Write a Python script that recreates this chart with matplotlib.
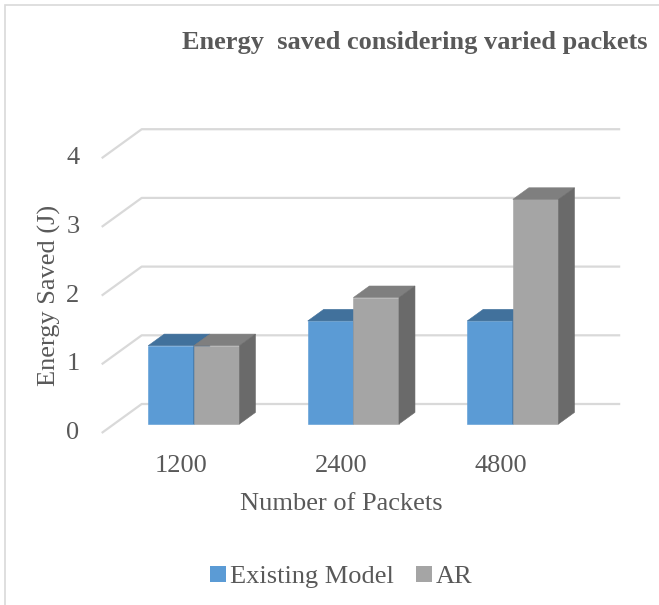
import matplotlib.pyplot as plt
from matplotlib.patches import Polygon, Patch, Rectangle

# data
categories = ["1200", "2400", "4800"]
existing_model = [1.14, 1.5, 1.5]
ar = [1.14, 1.84, 3.27]
y_ticks = [0, 1, 2, 3, 4]

series = [
    ("Existing Model", existing_model, ("#5b9bd5", "#41719c", "#3c6890")),
    ("AR", ar, ("#a5a5a5", "#7f7f7f", "#6a6a6a")),
]

TEXT = "#595959"
GRID = "#d9d9d9"
FS = 19
plt.rcParams['font.family'] = ['Liberation Serif', 'DejaVu Serif']

W, H = 659, 605
fig = plt.figure(figsize=(W / 100, H / 100), dpi=100)
ax = fig.add_axes([0, 0, 1, 1])
ax.set_xlim(-1.1376, 2.994)
ax.set_ylim(-2.504, 6.303)
ax.axis('off')

# oblique projection: depth 0 = front plane, depth 1 = back wall
DX, DY = 0.2508, 0.422
D0, D1 = 0.31, 0.71
BAR_W = 0.286
x_left = -0.5
x_right = len(categories) - 0.5


def proj(x, v, d):
    return (x + d * DX, v + d * DY)


# gridlines: back wall line plus diagonal on the left side wall
for v in y_ticks:
    ax.plot(*zip(proj(x_left, v, 0), proj(x_left, v, 1), proj(x_right, v, 1)),
            color=GRID, lw=1.6, zorder=1, solid_capstyle='butt')
    fx, fy = proj(x_left, v, 0)
    ax.text(fx - 0.18, fy, str(v), ha='center', va='center',
            fontsize=FS, color=TEXT)


def bar3d(x0, x1, h, colors, z):
    front, top, side = colors
    faces = [
        ([proj(x0, 0, D0), proj(x1, 0, D0), proj(x1, h, D0), proj(x0, h, D0)], front),
        ([proj(x0, h, D0), proj(x1, h, D0), proj(x1, h, D1), proj(x0, h, D1)], top),
        ([proj(x1, 0, D0), proj(x1, 0, D1), proj(x1, h, D1), proj(x1, h, D0)], side),
    ]
    for pts, c in faces:
        ax.add_patch(Polygon(pts, closed=True, facecolor=c, edgecolor=c,
                             lw=0.4, zorder=z))


for i, cat in enumerate(categories):
    for k, (name, vals, colors) in enumerate(series):
        x0 = i - BAR_W + k * BAR_W
        bar3d(x0, x0 + BAR_W, vals[i], colors, 2 + i * 2 + k)
    ax.text(i, -0.48, cat, ha='center', va='center', fontsize=FS, color=TEXT)

ax.text(1.0, -1.03, "Number of Packets", ha='center', va='center',
        fontsize=FS, color=TEXT)
ax.text(-0.83, 2.0, "Energy Saved (J)", ha='center', va='center',
        rotation=90, fontsize=FS, color=TEXT)

fig.text(415 / W, 1 - 42 / H, "Energy  saved considering varied packets",
         ha='center', va='center', fontsize=19, fontweight='bold', color=TEXT)

handles = [Patch(facecolor=c[0], edgecolor='none', label=n) for n, _, c in series]
fig.legend(handles=handles, loc='center', bbox_to_anchor=(341 / W, 1 - 577 / H),
           ncol=2, frameon=False, fontsize=FS, handlelength=0.6,
           handleheight=0.6, handletextpad=0.15, columnspacing=0.85,
           labelcolor=TEXT)

# chart border
fig.add_artist(Rectangle((5 / W, -0.1), 1.2, 1.1 - 5 / H, transform=fig.transFigure,
                         fill=False, edgecolor=GRID, lw=1.2))

fig.savefig("out.png", dpi=100)
